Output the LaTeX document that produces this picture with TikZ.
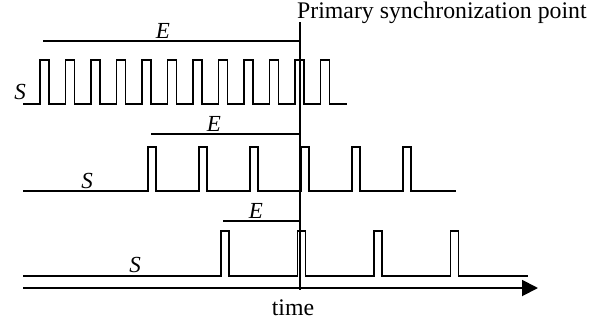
\documentclass[tikz,border=0pt]{standalone}
\usepackage{fontspec}
\setmainfont{Liberation Serif}
\usetikzlibrary{arrows.meta}
\begin{document}
\begin{tikzpicture}[x=1pt,y=-1pt,
  sig/.style={line width=1.9pt,line join=miter},
  eline/.style={line width=1.7pt},
  lbl/.style={inner sep=0pt,font=\fontsize{23}{26}\selectfont\itshape},
  txt/.style={inner sep=0pt,font=\fontsize{23.8}{26}\selectfont}]
\useasboundingbox (0,0) rectangle (616,322);
% row 1
\draw[sig] (23,104)
  \foreach \k in {0,...,11}{ -- ({40+25.5*\k},104) -- ({40+25.5*\k},60) -- ({49+25.5*\k},60) -- ({49+25.5*\k},104) }
  -- (347,104);
% row 2
\draw[sig] (23,191)
  \foreach \k in {0,...,5}{ -- ({148+51*\k},191) -- ({148+51*\k},147) -- ({156+51*\k},147) -- ({156+51*\k},191) }
  -- (456,191);
% row 3
\draw[sig] (23,276)
  \foreach \k in {0,...,3}{ -- ({221+76.5*\k},276) -- ({221+76.5*\k},231) -- ({229+76.5*\k},231) -- ({229+76.5*\k},276) }
  -- (528,276);
% sync line
\coordinate (vt) at (300,22);
\coordinate (vb) at (300,290);
\draw[line width=1.4pt] (vt) -- (vb);
% E lines
\coordinate (e1) at (43,41);
\coordinate (e1r) at (300,41);
\coordinate (e2) at (151,134);
\coordinate (e2r) at (300,134);
\coordinate (e3) at (223,221);
\coordinate (e3r) at (300,221);
\draw[eline] (e1) -- (e1r);
\draw[eline] (e2) -- (e2r);
\draw[eline] (e3) -- (e3r);
% axis
\coordinate (a0) at (23,288);
\coordinate (a1) at (538,288);
\draw[line width=1.9pt,-{Triangle[length=16pt,width=16pt]}] (a0) -- (a1);
% labels
\node[lbl] (E1) at (163,31) {E};
\node[lbl] (E2) at (214,124) {E};
\node[lbl] (E3) at (256,211) {E};
\node[lbl] (S1) at (20,92) {S};
\node[lbl] (S2) at (87,181) {S};
\node[lbl] (S3) at (135,265) {S};
\node[txt,anchor=base west] (psp) at (297,18) {Primary synchronization point};
\node[txt] (time) at (293,308) {time};
\end{tikzpicture}
\end{document}
